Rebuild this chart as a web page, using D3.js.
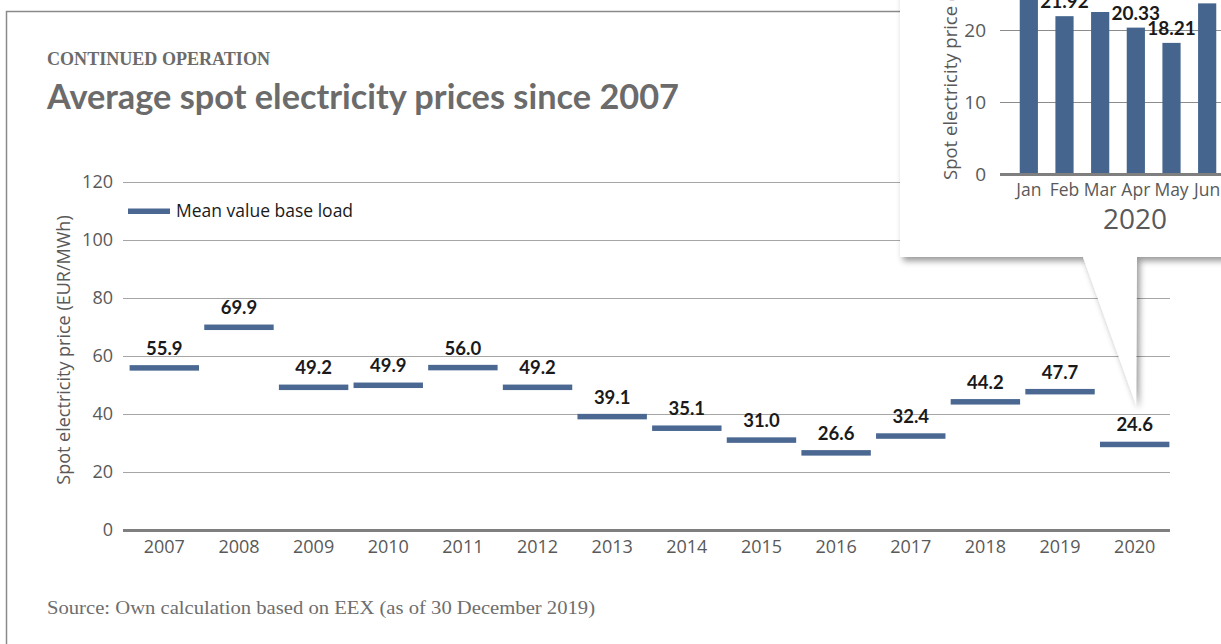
<!DOCTYPE html>
<html>
<head>
<meta charset="utf-8">
<script src="https://cdn.jsdelivr.net/npm/d3@7"></script>
<style>
  html, body { margin: 0; padding: 0; background: #fff; }
  svg { display: block; }
</style>
</head>
<body>
<svg id="chart" width="1221" height="644"></svg>
<script>
// ---------- DATA ----------
const years = ["2007","2008","2009","2010","2011","2012","2013","2014","2015","2016","2017","2018","2019","2020"];
// bar levels as drawn (2020 is drawn at ~29.5 in the picture)
const meanValues = [55.9, 69.9, 49.2, 49.9, 56.0, 49.2, 39.1, 35.1, 31.0, 26.6, 32.4, 44.2, 47.7, 29.5];
const meanLabels = ["55.9","69.9","49.2","49.9","56.0","49.2","39.1","35.1","31.0","26.6","32.4","44.2","47.7","24.6"];
const yTicks = [0, 20, 40, 60, 80, 100, 120];

const months = ["Jan","Feb","Mar","Apr","May","Jun"];
const monthValues = [35.0, 21.92, 22.5, 20.33, 18.21, 23.7];
const monthLabels = ["35.03", "21.92", null, "20.33", "18.21", "23.70"];
const insetTicks = [0, 10, 20, 30];

const subtitle = "CONTINUED OPERATION";
const title = "Average spot electricity prices since 2007";
const yTitle = "Spot electricity price (EUR/MWh)";
const legendLabel = "Mean value base load";
const sourceText = "Source: Own calculation based on EEX (as of 30 December 2019)";
const insetYear = "2020";

// ---------- STYLE ----------
const barColor = "#4a6891";
const gray = "#595959";
const gridColor = "#a6a6a6";
const sans = "'Open Sans', Lato, sans-serif";
const boldSans = "Lato, 'Open Sans', sans-serif";
const serif = "'Liberation Serif', 'DejaVu Serif', serif";

const svg = d3.select("#chart");

const defs = svg.append("defs");
const f = defs.append("filter").attr("id","shadow").attr("x","-10%").attr("y","-10%").attr("width","130%").attr("height","130%");
f.append("feDropShadow").attr("dx",3).attr("dy",4).attr("stdDeviation",3).attr("flood-color","#000").attr("flood-opacity",0.4);

// card border
svg.append("path")
  .attr("d", "M6.5,650 L6.5,11.5 L1230,11.5")
  .attr("fill","none").attr("stroke","#8a8a8a").attr("stroke-width",1.5);

// headings
svg.append("text").attr("x",47).attr("y",65)
  .attr("font-family",serif).attr("font-weight","bold").attr("font-size",19)
  .attr("fill","#6b6b6b").attr("textLength",223).attr("lengthAdjust","spacingAndGlyphs")
  .text(subtitle);
svg.append("text").attr("x",47).attr("y",109)
  .attr("font-family",boldSans).attr("font-weight","bold").attr("font-size",34)
  .attr("fill","#6b6b6b").attr("textLength",632).attr("lengthAdjust","spacingAndGlyphs")
  .text(title);

// ---------- MAIN CHART ----------
const x = d3.scaleBand().domain(years).range([127, 1172]).paddingInner(0.07).paddingOuter(0.035);
const y = d3.scaleLinear().domain([0, 120]).range([530, 182]);
const gridX0 = 123, gridX1 = 1170;

const yAxis = d3.axisLeft(y).tickValues(yTicks).tickSize(-(gridX1 - gridX0)).tickPadding(10);
const gy = svg.append("g").attr("transform", `translate(${gridX0},0)`).call(yAxis);
gy.select(".domain").remove();
gy.selectAll(".tick line").attr("stroke", d => d === 0 ? "#7f7f7f" : gridColor)
  .attr("stroke-width", d => d === 0 ? 3 : 1);
gy.selectAll(".tick text").attr("font-family",sans).attr("font-size",18).attr("fill",gray);

const xAxis = d3.axisBottom(x).tickSize(0).tickPadding(10);
const gx = svg.append("g").attr("transform", `translate(0,${y(0)})`).call(xAxis);
gx.select(".domain").remove();
gx.selectAll(".tick text").attr("font-family",sans).attr("font-size",18).attr("fill",gray);

svg.append("text")
  .attr("transform", `translate(70,350) rotate(-90)`)
  .attr("text-anchor","middle")
  .attr("font-family",sans).attr("font-size",18).attr("fill",gray)
  .text(yTitle);

// bars (horizontal dashes)
const barH = 5.5;
svg.append("g").selectAll("rect").data(years).join("rect")
  .attr("x", d => x(d))
  .attr("y", (d,i) => y(meanValues[i]) - barH/2)
  .attr("width", x.bandwidth())
  .attr("height", barH)
  .attr("fill", barColor);

svg.append("g").selectAll("text").data(years).join("text")
  .attr("x", d => x(d) + x.bandwidth()/2)
  .attr("y", (d,i) => y(meanValues[i]) - 13)
  .attr("text-anchor","middle")
  .attr("font-family",boldSans).attr("font-weight","bold").attr("font-size",18.5)
  .attr("fill","#1a1a1a")
  .text((d,i) => meanLabels[i]);

// legend
svg.append("rect").attr("x",128).attr("y",208.5).attr("width",42).attr("height",5.5).attr("fill",barColor);
svg.append("text").attr("x",176).attr("y",217)
  .attr("font-family",sans).attr("font-size",17.5).attr("fill","#1a1a1a")
  .text(legendLabel);

// source
svg.append("text").attr("x",47).attr("y",614)
  .attr("font-family",serif).attr("font-size",19).attr("fill","#6e6e6e")
  .attr("textLength",548).attr("lengthAdjust","spacingAndGlyphs")
  .text(sourceText);

// ---------- INSET CALLOUT ----------
svg.append("path")
  .attr("d","M900,-20 L1240,-20 L1240,257 L1137,257 L1136,405 L1083,257 L900,257 Z")
  .attr("fill","#fff").attr("filter","url(#shadow)");

const xi = d3.scaleBand().domain(months).range([1011, 1225]).paddingInner(0.49).paddingOuter(0.245);
const yi = d3.scaleLinear().domain([0, 30]).range([174, 174 - 30*7.2]);
const giX0 = 1000, giX1 = 1230;

const yiAxis = d3.axisLeft(yi).tickValues(insetTicks).tickSize(-(giX1 - giX0)).tickPadding(14);
const giy = svg.append("g").attr("transform", `translate(${giX0},0)`).call(yiAxis);
giy.select(".domain").remove();
giy.selectAll(".tick line").attr("stroke", d => d === 0 ? "#7f7f7f" : "#8c8c8c")
  .attr("stroke-width", d => d === 0 ? 3 : 1);
giy.selectAll(".tick text").attr("font-family",sans).attr("font-size",19).attr("fill",gray);

svg.append("g").selectAll("rect").data(months).join("rect")
  .attr("x", d => xi(d))
  .attr("y", (d,i) => yi(monthValues[i]))
  .attr("width", xi.bandwidth())
  .attr("height", (d,i) => yi(0) - yi(monthValues[i]) - 1)
  .attr("fill", "#46658e");

svg.append("g").selectAll("text").data(months.filter((d,i) => monthLabels[i] !== null)).join("text")
  .attr("x", d => xi(d) + xi.bandwidth()/2)
  .attr("y", d => yi(monthValues[months.indexOf(d)]) - 8)
  .attr("text-anchor","middle")
  .attr("font-family",boldSans).attr("font-weight","bold").attr("font-size",19)
  .attr("fill","#1a1a1a")
  .text(d => monthLabels[months.indexOf(d)]);

const xiAxis = d3.axisBottom(xi).tickSize(0).tickPadding(10);
const gix = svg.append("g").attr("transform", `translate(0,${yi(0)})`).call(xiAxis);
gix.select(".domain").remove();
gix.selectAll(".tick text").attr("font-family",sans).attr("font-size",17.5).attr("fill",gray);

svg.append("text").attr("x",1135).attr("y",229)
  .attr("text-anchor","middle")
  .attr("font-family",sans).attr("font-size",28).attr("fill",gray)
  .text(insetYear);

svg.append("text")
  .attr("transform", `translate(957,180) rotate(-90)`)
  .attr("text-anchor","start")
  .attr("font-family",sans).attr("font-size",18.5).attr("fill",gray)
  .text(yTitle);
</script>
</body>
</html>
